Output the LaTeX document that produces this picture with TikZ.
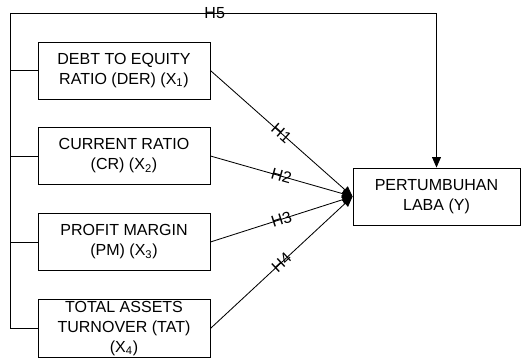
\documentclass[tikz,border=0pt]{standalone}
\usepackage{fontspec}
\setmainfont{Liberation Sans}
\usetikzlibrary{arrows.meta}
\usetikzlibrary{math}

\tikzset{
  varbox/.style={draw, line width=0.6pt, minimum width=4.3cm, minimum height=1.425cm,
    align=center, inner sep=1pt, font=\fontsize{11.4}{14.2}\selectfont},
  hyplabel/.style={inner sep=0.5pt, font=\fontsize{11.4}{13}\selectfont},
  hyparrow/.style={line width=0.6pt, -{Triangle[length=0.26cm,width=0.22cm]}}
}

\begin{document}
\begin{tikzpicture}
%\draw[blue, very thick] (0,0) rectangle (13.025,8.95);

\tikzmath{
\xbus = 0.25;
\ytop = 8.625;
\xleft = 3.1;
\xright = 10.9125;
\yder = 7.1875;
\ycr = 5.05;
\ypm = 2.9;
\ytat = 0.7375;
\ylaba = 4.0375;
}

\useasboundingbox (0,0) rectangle (13.025,8.95);

% variables
\node[varbox] (der) at (\xleft,\yder) {DEBT TO EQUITY\\RATIO (DER) (X\textsubscript{1})};
\node[varbox] (cr) at (\xleft,\ycr) {CURRENT RATIO\\(CR) (X\textsubscript{2})};
\node[varbox] (pm) at (\xleft,\ypm) {PROFIT MARGIN\\(PM) (X\textsubscript{3})};
\node[varbox] (tat) at (\xleft,\ytat) {TOTAL ASSETS\\TURNOVER (TAT)\\(X\textsubscript{4})};
\node[varbox, minimum width=4.175cm] (laba) at (\xright,\ylaba) {PERTUMBUHAN\\LABA (Y)};

%bus on the left
\coordinate (bustop) at (\xbus,\ytop);
\coordinate (corner) at (\xright,\ytop);
\draw[line width=0.6pt] (bustop) -- (bustop |- tat.west) -- (tat.west);
\draw[line width=0.6pt] (bustop |- der.west) -- (der.west);
\draw[line width=0.6pt] (bustop |- cr.west) -- (cr.west);
\draw[line width=0.6pt] (bustop |- pm.west) -- (pm.west);

%hypotheses
\draw[hyparrow] (der.east) -- node[hyplabel, sloped] {H1} (laba.west);
\draw[hyparrow] (cr.east) -- node[hyplabel, sloped] {H2} (laba.west);
\draw[hyparrow] (pm.east) -- node[hyplabel, sloped] {H3} (laba.west);
\draw[hyparrow] (tat.east) -- node[hyplabel, sloped] {H4} (laba.west);
\draw[hyparrow] (bustop) -- node[hyplabel, pos=0.48] {H5} (corner) -- (laba.north);

\end{tikzpicture}
\end{document}
